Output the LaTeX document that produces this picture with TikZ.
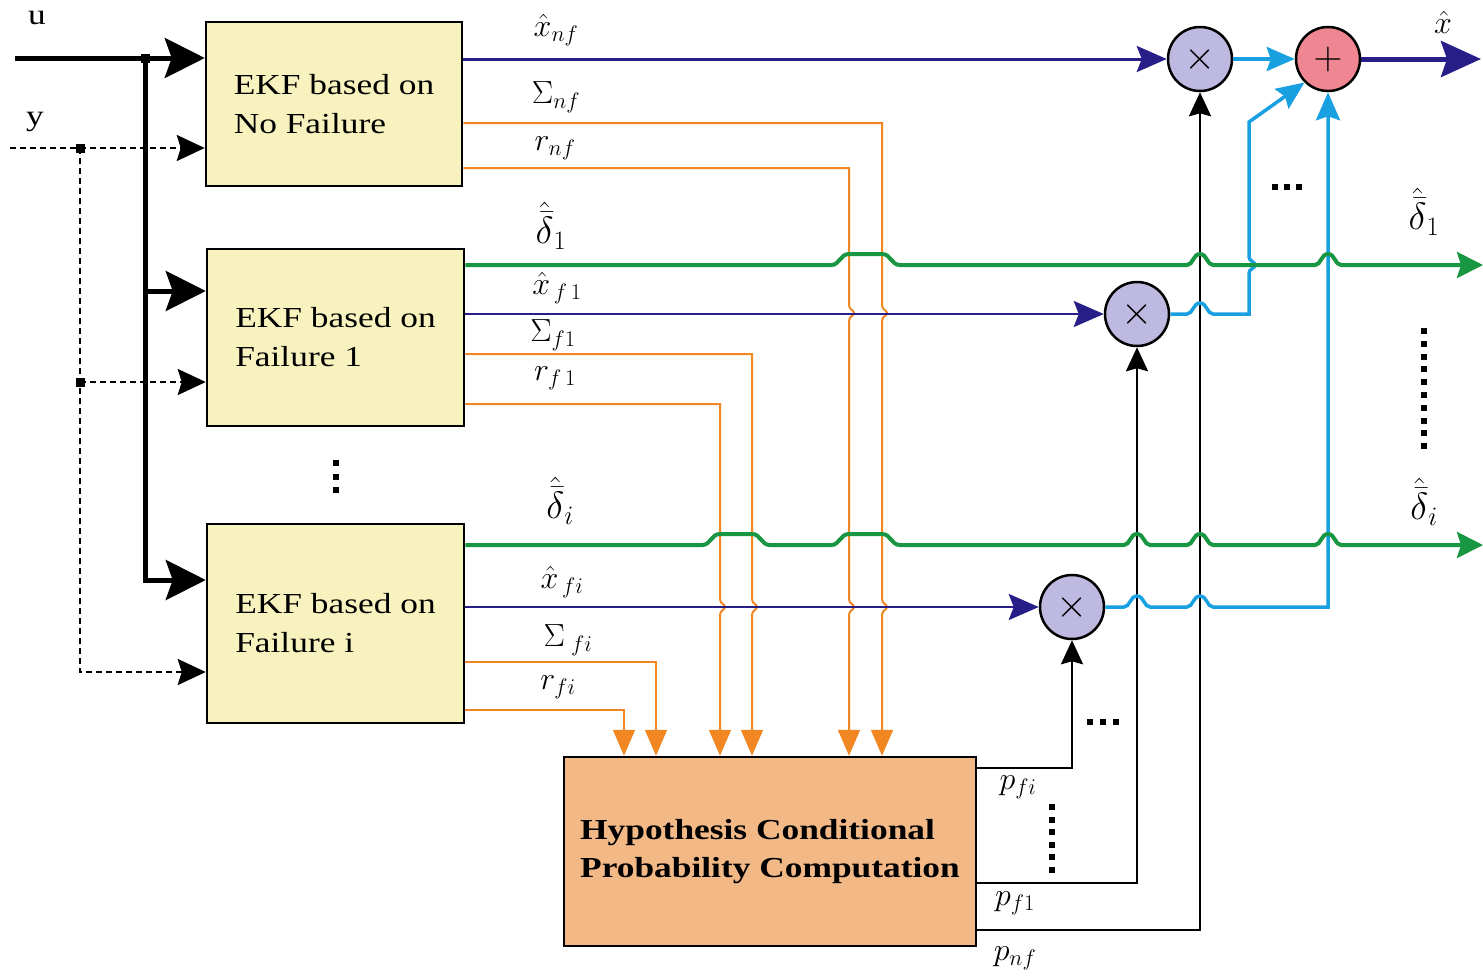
\RequirePackage{fix-cm}
\documentclass[tikz,border=0pt]{standalone}
\usepackage{fontspec}
\setmainfont[FakeStretch=1.22]{Liberation Serif}
\usetikzlibrary{arrows.meta}
\definecolor{navy}{RGB}{40,30,135}
\definecolor{grn}{RGB}{25,150,65}
\definecolor{org}{RGB}{240,135,35}
\definecolor{lblue}{RGB}{25,160,225}
\definecolor{lav}{RGB}{190,185,225}
\definecolor{pinkfill}{RGB}{238,135,145}
\definecolor{boxfill}{RGB}{248,243,190}
\definecolor{hypfill}{RGB}{242,185,135}
\newcommand\hopH[2]{-- (#1-13,#2) .. controls (#1-7,#2) and (#1-7,#2-11) .. (#1,#2-11) .. controls (#1+7,#2-11) and (#1+7,#2) .. (#1+13,#2)}
\newcommand\hopW[3]{-- (#1-18,#3) .. controls (#1-9,#3) and (#1-9,#3-11) .. (#1,#3-11) -- (#2,#3-11) .. controls (#2+9,#3-11) and (#2+9,#3) .. (#2+18,#3)}
\newcommand\hopV[2]{-- (#1,#2-8) .. controls (#1,#2-3) and (#1+5,#2-3) .. (#1+5,#2) .. controls (#1+5,#2+3) and (#1,#2+3) .. (#1,#2+8)}
\begin{document}
\begin{tikzpicture}[x=1pt,y=-1pt,
  ekf/.style={draw, line width=2.5pt, fill=boxfill, inner sep=0pt, align=left, font=\fontsize{29}{39}\selectfont},
  hyp/.style={draw, line width=2.5pt, fill=hypfill, inner sep=0pt, align=left, font=\fontsize{29}{38}\selectfont\bfseries},
  mult/.style={circle, draw, line width=2.5pt, fill=lav, minimum size=64pt, inner sep=0pt, font=\fontsize{40}{40}\selectfont},
  lab/.style={font=\fontsize{32}{36}\selectfont, inner sep=0pt},
  dlab/.style={font=\fontsize{38}{40}\selectfont, inner sep=0pt},
  txt/.style={font=\fontsize{29}{36}\selectfont, inner sep=0pt},
  junc/.style={rectangle, fill=black, minimum size=9pt, inner sep=0pt},
  uline/.style={line width=5pt, -{Stealth[length=40pt,width=40pt,inset=7pt]}},
  yline/.style={line width=2.5pt, dash pattern=on 6pt off 4pt, -{Stealth[length=28pt,width=26pt,inset=4pt]}},
  navyline/.style={draw=navy, line width=3pt, -{Stealth[length=30pt,width=26pt,inset=5pt]}},
  orgline/.style={draw=org, line width=2pt, -{Triangle[length=26pt,width=22pt]}, fill=none},
  grnline/.style={draw=grn, line width=4pt, -{Stealth[length=26pt,width=26pt,inset=4pt]}},
  blueline/.style={draw=lblue, line width=3.5pt, line join=miter, -{Stealth[length=28pt,width=24pt,inset=4pt]}},
  pline/.style={draw=black, line width=2.5pt, -{Stealth[length=24pt,width=22pt,inset=3pt]}},
  dot/.style={fill=black}
]
\useasboundingbox (0,0) rectangle (1483,978);

% blocks
\node[ekf, minimum width=256pt, minimum height=164pt] (NF) at (334,104) {EKF based on\\No Failure};
\node[ekf, minimum width=257pt, minimum height=177pt] (F1) at (335.5,337.5) {EKF based on\\Failure 1};
\node[ekf, minimum width=257pt, minimum height=199pt] (Fi) at (335.5,623.5) {EKF based on\\Failure i};
\node[hyp, minimum width=412pt, minimum height=189pt] (H) at (770,851.5) {Hypothesis Conditional\\Probability Computation};

\node[mult] (M1) at (1200,59) {$\times$};
\node[mult, fill=pinkfill] (S) at (1328,59) {$+$};
\node[mult] (M2) at (1137,314) {$\times$};
\node[mult] (M3) at (1072,607) {$\times$};

% inputs
\coordinate (uin) at (15,58);
\coordinate (uj) at (145,58);
\coordinate (u1) at (145,291);
\coordinate (u2) at (145,580);
\draw[uline] (uin) -- (NF.west |- uin);
\draw[uline, line join=miter] (uj) -- (u2) -- (Fi.west |- u2);
\draw[uline] (u1) -- (F1.west |- u1);
\node[junc] (ju) at (uj) {};

\coordinate (yin) at (10,148);
\coordinate (yj) at (80,148);
\coordinate (y1) at (80,382);
\coordinate (y2) at (80,672);
\draw[yline] (yin) -- (NF.west |- yin);
\draw[yline] (yj) -- (y2) -- (Fi.west |- y2);
\draw[yline] (y1) -- (F1.west |- y1);
\node[junc] (jy) at (yj) {};
\node[junc] (jy1) at (y1) {};

\node[txt] (lu) at (37,18) {u};
\node[txt] (ly) at (35,122) {y};

% orange lines to hypothesis block
\draw[orgline] (NF.east |- 0,123) -- (882,123) \hopV{882}{313} \hopV{882}{607} -- (H.north -| 882,0);
\draw[orgline] (NF.east |- 0,168) -- (849,168) \hopV{849}{313} \hopV{849}{607} -- (H.north -| 849,0);
\draw[orgline] (F1.east |- 0,354) -- (752,354) \hopV{752}{607} -- (H.north -| 752,0);
\draw[orgline] (F1.east |- 0,404) -- (720,404) \hopV{720}{607} -- (H.north -| 720,0);
\draw[orgline] (Fi.east |- 0,662) -| (H.north -| 656,0);
\draw[orgline] (Fi.east |- 0,710) -| (H.north -| 624,0);

% navy estimate lines
\draw[navyline] (NF.east |- M1) -- (M1.west);
\draw[navyline, line width=2.5pt] (F1.east |- M2) -- (M2.west);
\draw[navyline, line width=2.5pt] (Fi.east |- M3) -- (M3.west);

% black probability lines
\draw[pline] (H.east |- 0,768) -| (M3.south);
\draw[pline] (H.east |- 0,883) -| (M2.south);
\draw[pline] (H.east |- 0,930) -| (M1.south);

% light blue weighted estimates
\draw[blueline] (M1.east) -- (S.west);
\draw[blueline] (M2.east) \hopH{1200}{314} -- (1249,314) -- (1249,273) .. controls (1249,269) and (1255,268) .. (1255,265) .. controls (1255,262) and (1249,261) .. (1249,257) -- (1249,122) -- (S.225);
\draw[blueline] (M3.east) \hopH{1137}{607} \hopH{1200}{607} -- (1328,607) -- (S.south);

% green fault estimates
\coordinate (d1end) at (1483,265);
\coordinate (diend) at (1483,545);
\draw[grnline] (F1.east |- d1end) \hopW{849}{882}{265} \hopH{1200}{265} \hopH{1328}{265} -- (d1end);
\draw[grnline] (Fi.east |- diend) \hopW{720}{752}{545} \hopW{849}{882}{545} \hopH{1137}{545} \hopH{1200}{545} \hopH{1328}{545} -- (diend);

% output
\coordinate (xend) at (1481,59);
\draw[navyline, line width=5pt, -{Stealth[length=40pt,width=36pt,inset=6pt]}] (S.east) -- (xend);

% labels
\node[lab] (lxnf) at (556,30) {$\hat{x}_{nf}$};
\node[lab] (lSnf) at (556,97) {$\Sigma_{nf}$};
\node[lab] (lrnf) at (555,148) {$r_{nf}$};
\node[dlab] (ld1) at (551,226) {$\hat{\bar{\delta}}_1$};
\node[lab] (lxf1) at (557,288) {$\hat{x}_{\,f\,1}$};
\node[lab] (lSf1) at (553,335) {$\Sigma_{f1}$};
\node[lab] (lrf1) at (555,378) {$r_{f\,1}$};
\node[dlab] (ldi) at (560,501) {$\hat{\bar{\delta}}_i$};
\node[lab] (lxfi) at (562,582) {$\hat{x}_{\,fi}$};
\node[lab] (lSfi) at (568,640) {$\Sigma_{\;fi}$};
\node[lab] (lrfi) at (558,687) {$r_{fi}$};
\node[lab] (lx) at (1443,22) {$\hat{x}$};
\node[dlab] (ld1r) at (1424,212) {$\hat{\bar{\delta}}_1$};
\node[dlab] (ldir) at (1424,502) {$\hat{\bar{\delta}}_i$};
\node[lab] (lpfi) at (1018,787) {$p_{fi}$};
\node[lab] (lpf1) at (1015,903) {$p_{f1}$};
\node[lab] (lpnf) at (1015,958) {$p_{nf}$};

% dots
\foreach \yy in {463,477,490} \fill[dot] (333,\yy-3) rectangle (339,\yy+3);
\foreach \xx in {1090,1103,1116} \fill[dot] (\xx-3,719) rectangle (\xx+3,725);
\foreach \xx in {1275,1287,1299} \fill[dot] (\xx-3,184) rectangle (\xx+3,190);
\foreach \k in {0,...,5} \fill[dot] (1049,807+12.6*\k-3) rectangle (1055,807+12.6*\k+3);
\foreach \k in {0,...,9} \fill[dot] (1421,331+12.8*\k-3) rectangle (1427,331+12.8*\k+3);
\end{tikzpicture}
\end{document}
